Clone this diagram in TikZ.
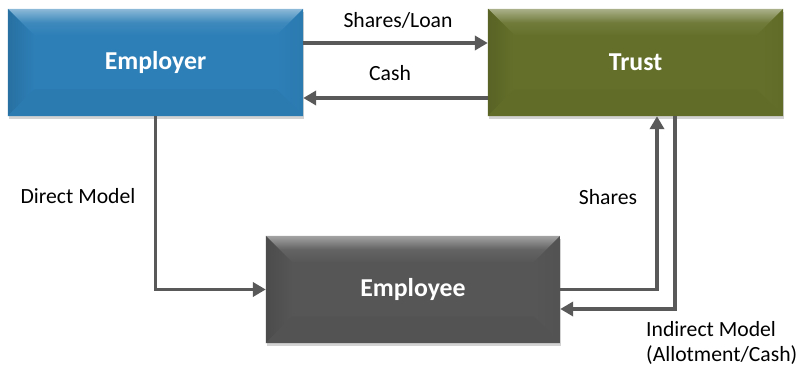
\documentclass[tikz,border=0pt]{standalone}
\usepackage{fontspec}
\setmainfont{Carlito}
\usetikzlibrary{arrows.meta,shadows,calc}

\definecolor{empblue}{HTML}{2D7FB7}
\definecolor{trustgreen}{HTML}{64702A}
\definecolor{staffgray}{HTML}{565656}
\definecolor{linegray}{HTML}{595959}

\tikzset{
	bevelbox/.style={rectangle, fill=#1, text=white,
		font=\bfseries\fontsize{22}{26}\selectfont,
		minimum width=8.85cm, minimum height=3.21cm, inner sep=0pt,
		drop shadow={shadow xshift=0.5pt, shadow yshift=-2.5pt, opacity=0.35},
		path picture={
			\coordinate (nw) at (path picture bounding box.north west);
			\coordinate (ne) at (path picture bounding box.north east);
			\coordinate (sw) at (path picture bounding box.south west);
			\coordinate (se) at (path picture bounding box.south east);
			% bevel faces, kept soft
			\shade[top color=#1!55!white, bottom color=#1, middle color=#1!92!white]
				(nw) -- (ne) -- ($(ne)+(-0.8cm,-0.8cm)$) -- ($(nw)+(0.8cm,-0.8cm)$) -- cycle;
			\shade[left color=#1!88!black, right color=#1]
				(nw) -- ($(nw)+(0.8cm,-0.8cm)$) -- ($(sw)+(0.8cm,0.8cm)$) -- (sw) -- cycle;
			\shade[left color=#1, right color=#1!96!black]
				(ne) -- ($(ne)+(-0.8cm,-0.8cm)$) -- ($(se)+(-0.8cm,0.8cm)$) -- (se) -- cycle;
			\fill[#1!96!black]
				(sw) -- ($(sw)+(0.8cm,0.8cm)$) -- ($(se)+(-0.8cm,0.8cm)$) -- (se) -- cycle;
		}},
	flow/.style={draw=linegray, line width=3.4pt,
		-{Triangle[length=11pt,width=12pt]}},
	lbl/.style={font=\fontsize{18.5}{22}\selectfont, text=black}
}

\begin{document}
\begin{tikzpicture}[x=0.03cm, y=-0.03cm]
	\useasboundingbox (0,0) rectangle (808,371);

	% the three parties
	\node[bevelbox=empblue] (emp) at (155.5,62.5) {Employer};
	\node[bevelbox=trustgreen] (trust) at (635.5,62.5) {Trust};
	\node[bevelbox=staffgray, minimum width=8.82cm] (staff) at (413,289.5) {Employee};

	% employer <-> trust
	\draw[flow] ([yshift=0.585cm]emp.east) -- ([yshift=0.585cm]trust.west);
	\draw[flow] ([yshift=-1.065cm]trust.west) -- ([yshift=-1.065cm]emp.east);

	% direct and indirect models
	\draw[flow] (emp.south) |- (staff.west);
	\draw[flow] (staff.east) -| ([xshift=0.645cm]trust.south);
	\draw[flow] ([xshift=1.185cm]trust.south) |- ([yshift=-0.585cm]staff.east);

	% labels
	\node[lbl] (lshares) at (398,20) {Shares/Loan};
	\node[lbl] (lcash) at (390,73) {Cash};
	\node[lbl] (ldirect) at (78,196) {Direct Model};
	\node[lbl] (lsh) at (608,197) {Shares};
	\node[lbl, anchor=west, align=left, inner sep=0pt] (lindirect) at (646,343)
		{Indirect Model\\(Allotment/Cash)};
\end{tikzpicture}
\end{document}
